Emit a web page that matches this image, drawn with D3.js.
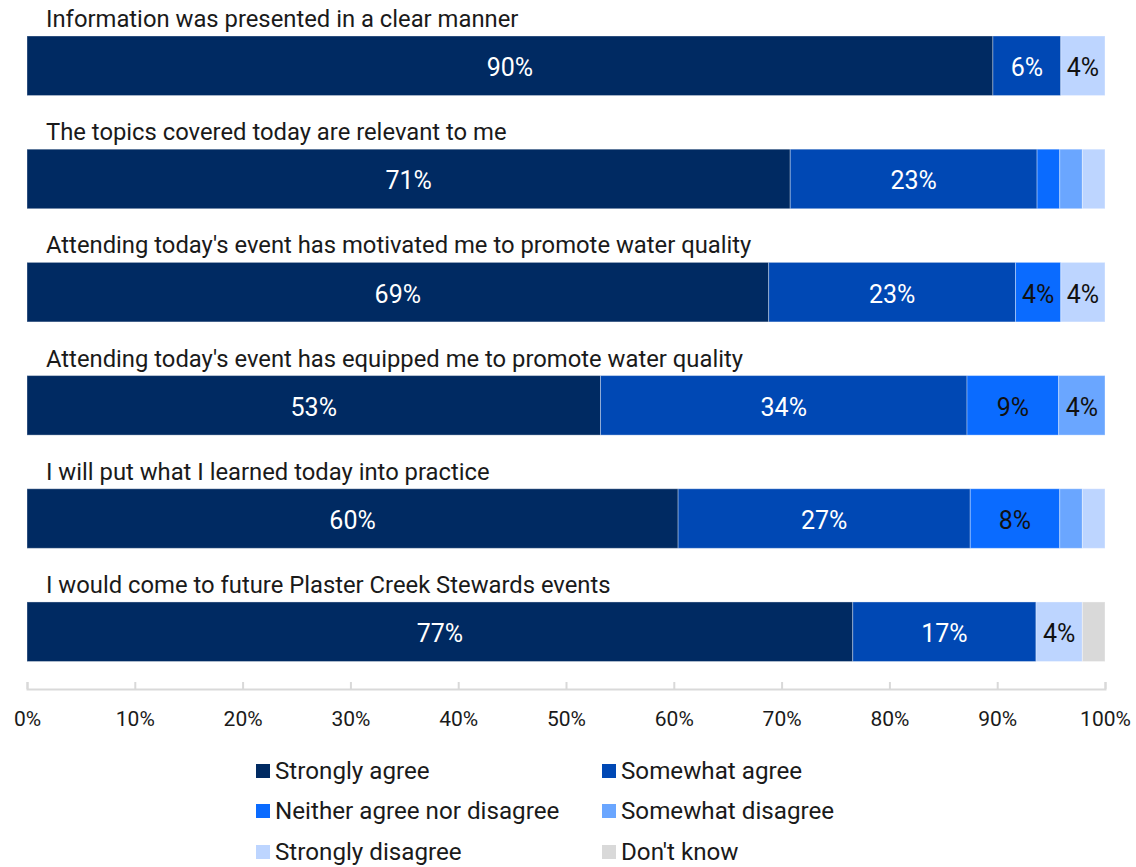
<!DOCTYPE html>
<html>
<head>
<meta charset="utf-8">
<script src="https://cdn.jsdelivr.net/npm/d3@7"></script>
<style>
  html, body { margin: 0; padding: 0; background: #ffffff; }
  svg { display: block; font-family: Roboto, "Noto Sans", sans-serif; }
</style>
</head>
<body>
<svg id="chart" width="1136" height="867"></svg>
<script>
// Survey statements, top to bottom
const statements = [
  "Information was presented in a clear manner",
  "The topics covered today are relevant to me",
  "Attending today's event has motivated me to promote water quality",
  "Attending today's event has equipped me to promote water quality",
  "I will put what I learned today into practice",
  "I would come to future Plaster Creek Stewards events"
];

// Response categories (stack order, left to right)
const responses = [
  "Strongly agree",
  "Somewhat agree",
  "Neither agree nor disagree",
  "Somewhat disagree",
  "Strongly disagree",
  "Don't know"
];

// Percent of respondents per statement, one array per response
const stronglyAgree    = [89.6, 70.8, 68.8, 53.2, 60.4, 76.6];
const somewhatAgree    = [6.3, 22.9, 22.9, 34.0, 27.1, 17.0];
const neitherAgree     = [0, 2.1, 4.2, 8.5, 8.3, 0];
const somewhatDisagree = [0, 2.1, 0, 4.3, 2.1, 0];
const stronglyDisagree = [4.1, 2.1, 4.1, 0, 2.1, 4.3];
const dontKnow         = [0, 0, 0, 0, 0, 2.1];

const xTicks = [0, 10, 20, 30, 40, 50, 60, 70, 80, 90, 100];

const seriesValues = [stronglyAgree, somewhatAgree, neitherAgree, somewhatDisagree, stronglyDisagree, dontKnow];

const colors = ["#002a62", "#0048b4", "#0a6bff", "#6aa6ff", "#bdd5ff", "#d9d9d9"];
const labelColors = ["#ffffff", "#ffffff", "#111111", "#111111", "#111111", "#111111"];

// Row table for d3.stack
const rows = statements.map((s, i) => {
  const r = { statement: s };
  responses.forEach((k, j) => { r[k] = seriesValues[j][i]; });
  return r;
});

const svg = d3.select("#chart");

const x = d3.scaleLinear().domain([0, 100]).range([27, 1105]);
const y = d3.scaleBand().domain(statements).range([36, 661.5]).paddingInner(0.474).paddingOuter(0);

const stack = d3.stack().keys(responses);
const layers = stack(rows);

const color = d3.scaleOrdinal().domain(responses).range(colors);
const labelColor = d3.scaleOrdinal().domain(responses).range(labelColors);

// Statement titles above each bar
svg.append("g")
  .selectAll("text")
  .data(statements)
  .join("text")
  .attr("x", 46)
  .attr("y", d => y(d) - 9)
  .attr("font-size", 23.8)
  .attr("fill", "#1a1a1a")
  .text(d => d);

// Stacked segments
const layerG = svg.append("g")
  .selectAll("g")
  .data(layers)
  .join("g")
  .attr("fill", d => color(d.key));

layerG.selectAll("rect")
  .data(d => d.filter(p => p[1] - p[0] > 0))
  .join("rect")
  .attr("x", d => x(d[0]))
  .attr("y", d => y(d.data.statement))
  .attr("width", d => x(d[1]) - x(d[0]))
  .attr("height", y.bandwidth())
  .attr("stroke", "rgba(255,255,255,0.35)")
  .attr("stroke-width", 1);

// Value labels for segments wide enough to hold them
const labelG = svg.append("g")
  .selectAll("g")
  .data(layers)
  .join("g")
  .attr("fill", d => labelColor(d.key));

labelG.selectAll("text")
  .data(d => d.filter(p => p[1] - p[0] >= 3.5))
  .join("text")
  .attr("x", d => (x(d[0]) + x(d[1])) / 2)
  .attr("y", d => y(d.data.statement) + y.bandwidth() / 2 + 2)
  .attr("text-anchor", "middle")
  .attr("dominant-baseline", "central")
  .attr("font-size", 25)
  .text(d => Math.round(d[1] - d[0]) + "%");

// Bottom axis with upward ticks
const axisG = svg.append("g")
  .attr("transform", "translate(0,689)")
  .call(d3.axisBottom(x).tickValues(xTicks).tickSize(-7).tickPadding(0).tickFormat(d => d + "%"));

axisG.select(".domain").attr("stroke", "#d9d9d9").attr("stroke-width", 2);
axisG.selectAll(".tick line").attr("stroke", "#d9d9d9").attr("stroke-width", 2);
axisG.selectAll(".tick text")
  .attr("font-size", 21)
  .attr("font-family", "Roboto, 'Noto Sans', sans-serif")
  .attr("fill", "#1a1a1a")
  .attr("y", 30)
  .attr("dy", "0.32em");

// Legend: two columns, three rows
const legendCols = [256, 602];
const legendRows = [771, 811, 852];
const legend = svg.append("g")
  .selectAll("g")
  .data(responses)
  .join("g")
  .attr("transform", (d, i) => `translate(${legendCols[i % 2]},${legendRows[Math.floor(i / 2)]})`);

legend.append("rect")
  .attr("x", 0)
  .attr("y", -7)
  .attr("width", 14)
  .attr("height", 14)
  .attr("fill", d => color(d));

legend.append("text")
  .attr("x", 19)
  .attr("y", 0)
  .attr("dominant-baseline", "central")
  .attr("font-size", 24.2)
  .attr("fill", "#1a1a1a")
  .text(d => d);
</script>
</body>
</html>
